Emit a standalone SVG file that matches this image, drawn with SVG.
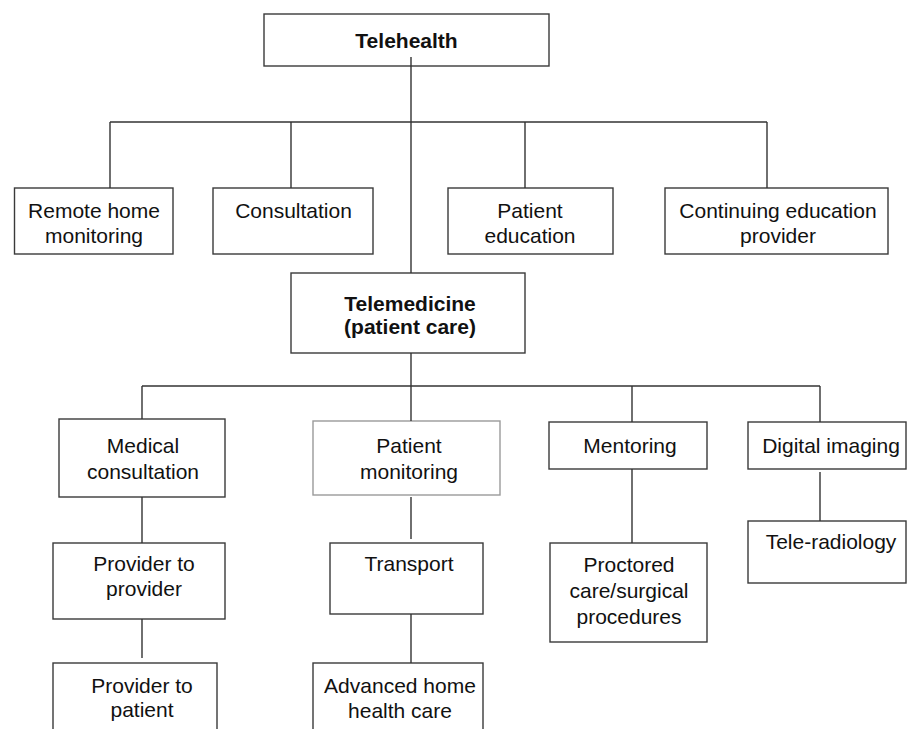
<svg xmlns="http://www.w3.org/2000/svg" width="909" height="729" viewBox="0 0 909 729">
<style>
  .box { fill: #fff; stroke: #3a3a3a; stroke-width: 1.4; }
  .light { stroke: #9a9a9a; }
  .conn line { stroke: #333; stroke-width: 1.4; }
  text { font-family: "Liberation Sans", Arial, sans-serif; font-size: 21px; fill: #111; text-anchor: middle; }
  .b { font-weight: bold; }
</style>
<rect width="909" height="729" fill="#fff"/>
<g id="telehealth">
  <rect class="box" x="264" y="14" width="285" height="52"/>
  <text class="b" x="406.5" y="48">Telehealth</text>
</g>
<g id="remote-home-monitoring">
  <rect class="box" x="14.5" y="188" width="158.5" height="66"/>
  <text x="94" y="218">Remote home</text>
  <text x="94" y="243">monitoring</text>
</g>
<g id="consultation">
  <rect class="box" x="213" y="188" width="160" height="66"/>
  <text x="293.5" y="218">Consultation</text>
</g>
<g id="patient-education">
  <rect class="box" x="448" y="188" width="165" height="66"/>
  <text x="530" y="218">Patient</text>
  <text x="530" y="243">education</text>
</g>
<g id="continuing-education-provider">
  <rect class="box" x="665" y="188" width="223" height="66"/>
  <text x="778" y="218">Continuing education</text>
  <text x="778" y="243">provider</text>
</g>
<g id="telemedicine">
  <rect class="box" x="291" y="273" width="234" height="80"/>
  <text class="b" x="410" y="311">Telemedicine</text>
  <text class="b" x="410" y="334">(patient care)</text>
</g>
<g id="medical-consultation">
  <rect class="box" x="59" y="419" width="166" height="78"/>
  <text x="143" y="453">Medical</text>
  <text x="143" y="479">consultation</text>
</g>
<g id="patient-monitoring">
  <rect class="box light" x="313" y="421" width="187" height="74"/>
  <text x="409" y="453">Patient</text>
  <text x="409" y="479">monitoring</text>
</g>
<g id="mentoring">
  <rect class="box" x="549" y="422" width="158" height="47"/>
  <text x="630" y="453">Mentoring</text>
</g>
<g id="digital-imaging">
  <rect class="box" x="748" y="422" width="158" height="47"/>
  <text x="831" y="453">Digital imaging</text>
</g>
<g id="provider-to-provider">
  <rect class="box" x="53" y="543" width="172" height="76"/>
  <text x="144" y="571">Provider to</text>
  <text x="144" y="596">provider</text>
</g>
<g id="transport">
  <rect class="box" x="330" y="543" width="153" height="71"/>
  <text x="409" y="571">Transport</text>
</g>
<g id="proctored-care">
  <rect class="box" x="550" y="543" width="157" height="99"/>
  <text x="629" y="572">Proctored</text>
  <text x="629" y="598">care/surgical</text>
  <text x="629" y="624">procedures</text>
</g>
<g id="tele-radiology">
  <rect class="box" x="748" y="521" width="158" height="62"/>
  <text x="831" y="549">Tele-radiology</text>
</g>
<g id="provider-to-patient">
  <rect class="box" x="53" y="663" width="164" height="80"/>
  <text x="142" y="693">Provider to</text>
  <text x="142" y="717">patient</text>
</g>
<g id="advanced-home-health-care">
  <rect class="box" x="313" y="663" width="170" height="80"/>
  <text x="400" y="693">Advanced home</text>
  <text x="400" y="718">health care</text>
</g>
<g id="connectors" class="conn">
  <line x1="411" y1="57" x2="411" y2="273"/>
  <line x1="110" y1="122" x2="767" y2="122"/>
  <line x1="110" y1="122" x2="110" y2="188"/>
  <line x1="291" y1="122" x2="291" y2="188"/>
  <line x1="525" y1="122" x2="525" y2="188"/>
  <line x1="767" y1="122" x2="767" y2="188"/>
  <line x1="411" y1="353" x2="411" y2="421"/>
  <line x1="142" y1="386" x2="820" y2="386"/>
  <line x1="142" y1="386" x2="142" y2="419"/>
  <line x1="632" y1="386" x2="632" y2="422"/>
  <line x1="820" y1="386" x2="820" y2="422"/>
  <line x1="142" y1="497" x2="142" y2="543"/>
  <line x1="142" y1="619" x2="142" y2="658"/>
  <line x1="411" y1="497" x2="411" y2="539"/>
  <line x1="411" y1="614" x2="411" y2="663"/>
  <line x1="632" y1="469" x2="632" y2="543"/>
  <line x1="820" y1="472" x2="820" y2="521"/>
</g>
</svg>
